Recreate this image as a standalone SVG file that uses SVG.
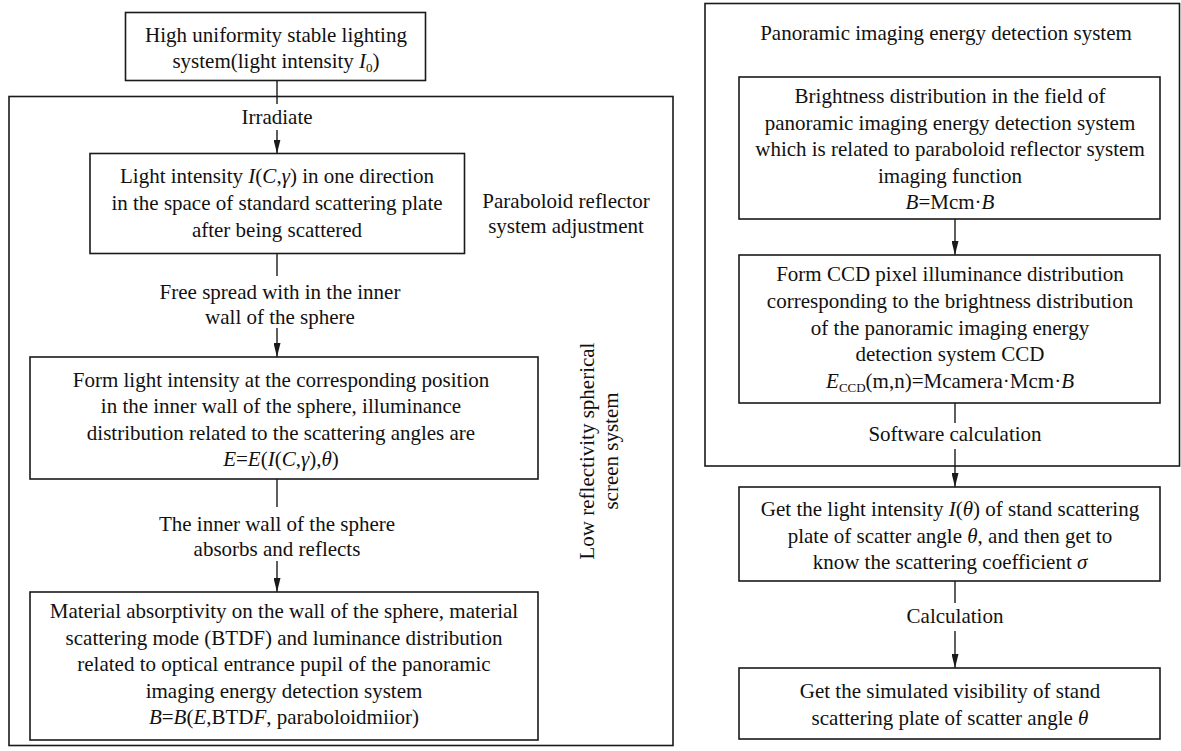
<svg xmlns="http://www.w3.org/2000/svg" width="1181" height="751" viewBox="0 0 1181 751">
<style>
.box{fill:none;stroke:#1a1a1a;stroke-width:1.6}
.con{fill:none;stroke:#1a1a1a;stroke-width:1.4}
text{font-family:"Liberation Serif","Times New Roman",serif;font-size:21px;fill:#111;text-anchor:middle}
.i{font-style:italic}
</style>
<defs>
<marker id="ah" markerUnits="userSpaceOnUse" markerWidth="14" markerHeight="7" refX="14" refY="3.5" orient="auto">
<path d="M0,0 L14,3.5 L0,7 z" fill="#1a1a1a"/>
</marker>
</defs>
<rect width="1181" height="751" fill="#fff"/>

<g id="paraboloid-container">
<rect class="box" x="9" y="96.5" width="664" height="649"/>
<text x="566" y="208" font-size="22">Paraboloid reflector</text>
<text x="566" y="233" font-size="22">system adjustment</text>
<text transform="translate(594,451) rotate(-90)">Low reflectivity spherical</text>
<text transform="translate(618,451) rotate(-90)">screen system</text>
</g>

<g id="panoramic-container">
<rect class="box" x="705" y="3.5" width="474.5" height="462.5"/>
<text x="946" y="40">Panoramic imaging energy detection system</text>
</g>

<g id="lighting">
<rect class="box" x="125.5" y="12.5" width="300" height="68"/>
<text x="276" y="41.5">High uniformity stable lighting</text>
<text x="276" y="67.5">system(light intensity <tspan class="i">I</tspan><tspan font-size="13" dy="4">0</tspan><tspan dy="-4">)</tspan></text>
</g>

<g id="scatter-intensity">
<rect class="box" x="90" y="153.5" width="374.5" height="100"/>
<text x="277" y="183">Light intensity <tspan class="i">I</tspan>(<tspan class="i">C</tspan>,<tspan class="i">γ</tspan>) in one direction</text>
<text x="277" y="210">in the space of standard scattering plate</text>
<text x="277" y="236.5">after being scattered</text>
</g>

<g id="wall-illuminance">
<rect class="box" x="30" y="357" width="508" height="122"/>
<text x="281" y="387">Form light intensity at the corresponding position</text>
<text x="281" y="413">in the inner wall of the sphere, illuminance</text>
<text x="281" y="440">distribution related to the scattering angles are</text>
<text x="281" y="466"><tspan class="i">E</tspan>=<tspan class="i">E</tspan>(<tspan class="i">I</tspan>(<tspan class="i">C</tspan>,<tspan class="i">γ</tspan>),<tspan class="i">θ</tspan>)</text>
</g>

<g id="luminance">
<rect class="box" x="30" y="592" width="508" height="148"/>
<text x="284" y="618">Material absorptivity on the wall of the sphere, material</text>
<text x="284" y="645">scattering mode (BTDF) and luminance distribution</text>
<text x="284" y="671">related to optical entrance pupil of the panoramic</text>
<text x="284" y="698">imaging energy detection system</text>
<text x="284" y="724"><tspan class="i">B</tspan>=<tspan class="i">B</tspan>(<tspan class="i">E</tspan>,BTD<tspan class="i">F</tspan>, paraboloidmiior)</text>
</g>

<g id="brightness">
<rect class="box" x="739" y="77" width="421" height="142"/>
<text x="950" y="103">Brightness distribution in the field of</text>
<text x="950" y="129.5">panoramic imaging energy detection system</text>
<text x="950" y="156">which is related to paraboloid reflector system</text>
<text x="950" y="182.5">imaging function</text>
<text x="950" y="209"><tspan class="i">B</tspan>=Mcm·<tspan class="i">B</tspan></text>
</g>

<g id="ccd-illuminance">
<rect class="box" x="739" y="255" width="421" height="148"/>
<text x="950" y="281">Form CCD pixel illuminance distribution</text>
<text x="950" y="308">corresponding to the brightness distribution</text>
<text x="950" y="334.5">of the panoramic imaging energy</text>
<text x="950" y="361">detection system CCD</text>
<text x="950" y="387.5"><tspan class="i">E</tspan><tspan font-size="13" dy="4">CCD</tspan><tspan dy="-4">(m,n)=Mcamera·Mcm·</tspan><tspan class="i">B</tspan></text>
</g>

<g id="scatter-coefficient">
<rect class="box" x="739" y="487" width="421" height="94"/>
<text x="950" y="516">Get the light intensity <tspan class="i">I</tspan>(<tspan class="i">θ</tspan>) of stand scattering</text>
<text x="950" y="542.5">plate of scatter angle <tspan class="i">θ</tspan>, and then get to</text>
<text x="950" y="569">know the scattering coefficient <tspan class="i">σ</tspan></text>
</g>

<g id="visibility">
<rect class="box" x="739" y="668" width="421" height="71"/>
<text x="950" y="698">Get the simulated visibility of stand</text>
<text x="950" y="724.5">scattering plate of scatter angle <tspan class="i">θ</tspan></text>
</g>

<g id="connectors">
<line class="con" x1="277" y1="80.5" x2="277" y2="104"/>
<text x="277" y="124">Irradiate</text>
<line class="con" x1="277" y1="130" x2="277" y2="153.5" marker-end="url(#ah)"/>
<line class="con" x1="277" y1="253.5" x2="277" y2="276"/>
<text x="280" y="299">Free spread with in the inner</text>
<text x="280" y="324">wall of the sphere</text>
<line class="con" x1="277" y1="328" x2="277" y2="357" marker-end="url(#ah)"/>
<line class="con" x1="277" y1="479" x2="277" y2="507"/>
<text x="277" y="531">The inner wall of the sphere</text>
<text x="277" y="556">absorbs and reflects</text>
<line class="con" x1="277" y1="561" x2="277" y2="592" marker-end="url(#ah)"/>
<line class="con" x1="955" y1="219" x2="955" y2="255" marker-end="url(#ah)"/>
<line class="con" x1="955" y1="403" x2="955" y2="423"/>
<text x="955" y="441">Software calculation</text>
<line class="con" x1="955" y1="449" x2="955" y2="487" marker-end="url(#ah)"/>
<line class="con" x1="955" y1="581" x2="955" y2="603"/>
<text x="955" y="623">Calculation</text>
<line class="con" x1="955" y1="631" x2="955" y2="668" marker-end="url(#ah)"/>
</g>
</svg>
